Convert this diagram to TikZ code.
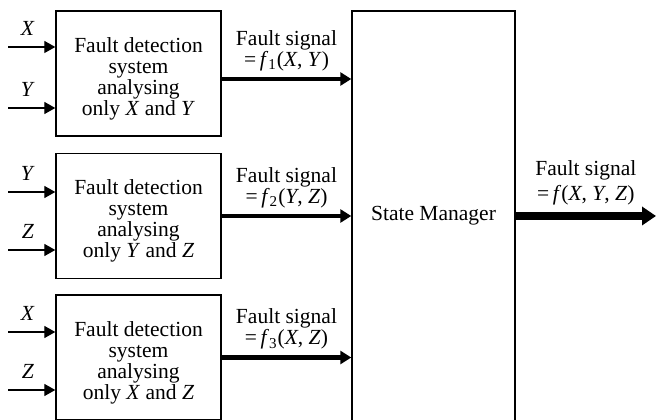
\documentclass[tikz,border=0pt]{standalone}
\usepackage{fontspec}
\setmainfont{Liberation Serif}
\usetikzlibrary{arrows.meta,positioning,calc}

\begin{document}
\begin{tikzpicture}[
  x=0.5bp,y=-0.5bp,>=Triangle,
  input/.style={->,line width=0.7bp,>={Triangle[length=5.5bp,width=6bp]}},
  signal/.style={->,line width=2.3bp,>={Triangle[length=5.5bp,width=6.5bp]}},
  result/.style={->,line width=4bp,>={Triangle[length=7bp,width=9bp]}},
  detector/.style={draw,line width=0.7bp,minimum width=82.5bp,
    minimum height=62.5bp,inner sep=0pt,align=center},
  manager/.style={draw,line width=0.7bp,minimum width=81.5bp,
    minimum height=205bp,inner sep=0pt},
  every node/.style={font=\fontsize{10.8}{10.6}\selectfont}
]
  \useasboundingbox (0,0) rectangle (656,420);
  \node[detector] (det1) at (138.5,73.5)
    {\\[2bp]Fault detection\\system\\analysing\\only \textit{X} and \textit{Y}};
  \node[detector] (det2) at (138.5,216)
    {\\[2bp]Fault detection\\system\\analysing\\only \textit{Y} and \textit{Z}};
  \node[detector] (det3) at (138.5,357.5)
    {\\[2bp]Fault detection\\system\\analysing\\only \textit{X} and \textit{Z}};
  \node[manager] (sm) at (433.5,216) {State Manager};
  % inputs
  \coordinate (x1) at (8,47);
  \coordinate (y1) at (8,108);
  \coordinate (y2) at (8,192);
  \coordinate (z2) at (8,250);
  \coordinate (x3) at (8,332);
  \coordinate (z3) at (8,390);
  \draw[input] (x1) -- node[pos=0.42,above=2bp] {\textit{X}} (x1 -| det1.west);
  \draw[input] (y1) -- node[pos=0.42,above=2bp] {\textit{Y}} (y1 -| det1.west);
  \draw[input] (y2) -- node[pos=0.42,above=2bp] {\textit{Y}} (y2 -| det2.west);
  \draw[input] (z2) -- node[pos=0.42,above=2bp] {\textit{Z}} (z2 -| det2.west);
  \draw[input] (x3) -- node[pos=0.42,above=2bp] {\textit{X}} (x3 -| det3.west);
  \draw[input] (z3) -- node[pos=0.42,above=2bp] {\textit{Z}} (z3 -| det3.west);
  % fault signals
  \draw[signal] ([yshift=-2.75bp]det1.east) -- ([yshift=-2.75bp]det1.east -| sm.west)
    node[midway,above=-0.5bp,align=center]
    {Fault signal\\=\,\textit{f}\textsubscript{1}(\textit{X}, \textit{Y})};
  \draw[signal] (det2.east) -- (det2.east -| sm.west)
    node[midway,above=-0.5bp,align=center]
    {Fault signal\\=\,\textit{f}\textsubscript{2}(\textit{Y}, \textit{Z})};
  \draw[signal] (det3.east) -- (det3.east -| sm.west)
    node[midway,above=-0.5bp,align=center]
    {Fault signal\\=\,\textit{f}\textsubscript{3}(\textit{X}, \textit{Z})};
  \coordinate (out) at (656,216);
  \draw[result] (sm.east) -- (out)
    node[midway,above=0bp,align=center]
    {Fault signal\\[2bp]=\,\textit{f}(\textit{X}, \textit{Y}, \textit{Z})};
\end{tikzpicture}
\end{document}
